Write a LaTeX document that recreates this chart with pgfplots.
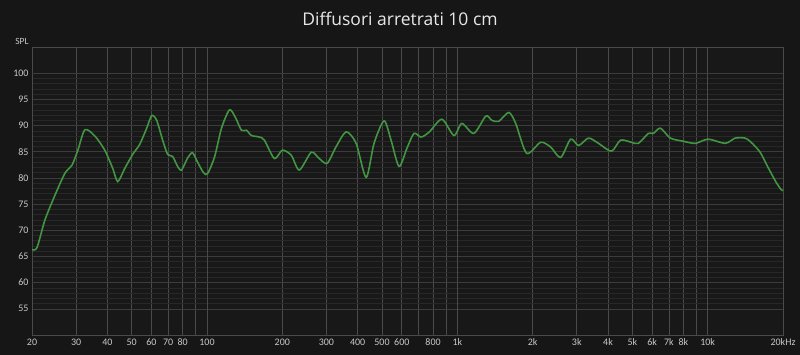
\documentclass[border=0pt]{standalone}
\usepackage{fontspec}
\setmainfont{Open Sans}
\newfontfamily\tickfont{Carlito}
\usepackage{pgfplots}
\pgfplotsset{compat=1.18}
\definecolor{bg}{HTML}{161616}
\definecolor{plotbg}{HTML}{181818}
\definecolor{curve}{RGB}{66,150,66}
\definecolor{lbl}{HTML}{C8C8C8}
\definecolor{titlec}{HTML}{E8E8E8}
\definecolor{gmaj}{HTML}{9A9A9A}
\definecolor{gmid}{HTML}{4A4A4A}
\definecolor{gten}{HTML}{6E6E6E}
\definecolor{gfive}{HTML}{3C3C3C}
\definecolor{gmin}{HTML}{282828}
\begin{document}
\begin{tikzpicture}
\fill[bg] (0,0) rectangle (800pt,355pt);
\path[use as bounding box] (0,0) rectangle (800pt,355pt);
\node[text=titlec, font=\fontsize{17.5}{20}\selectfont] at (400pt,336pt) {Diffusori arretrati 10 cm};
\node[text=lbl, font=\tickfont\fontsize{9.5}{11}\selectfont] at (22pt,314pt) {SPL};
\begin{axis}[
  at={(32pt,20pt)}, anchor=south west,
  scale only axis, width=751pt, height=288pt,
  xmode=log, xmin=20, xmax=20000, ymin=50, ymax=105,
  axis background/.style={fill=plotbg},
  axis line style={draw=gmid},
  major tick length=0pt, minor tick length=0pt,
  xtick={20,30,40,50,60,70,80,100,200,300,400,500,600,800,1000,2000,3000,4000,5000,6000,7000,8000,10000,20000},
  xticklabels={20,30,40,50,60,70,80,100,200,300,400,500,600,800,1k,2k,3k,4k,5k,6k,7k,8k,10k,20kHz},
  minor xtick={90,700,900,9000},
  ytick={55,60,...,100},
  minor y tick num=4,
  grid=both,
  major x grid style={gmid, line width=0.6pt},
  minor x grid style={gmid, line width=0.6pt},
  major y grid style={gfive, line width=0.6pt},
  minor y grid style={gmin, line width=0.5pt},
  extra x ticks={100,1000,10000},
  extra x tick labels={},
  extra x tick style={grid=major, major grid style={gmaj, line width=0.8pt}},
  extra y ticks={60,70,80,90,100},
  extra y tick labels={},
  extra y tick style={grid=major, major grid style={gten, line width=0.7pt}},
  /pgf/number format/assume math mode=true,
  xticklabel style={text=lbl, font=\tickfont\fontsize{10}{12}\selectfont},
  yticklabel style={text=lbl, font=\tickfont\fontsize{10}{12}\selectfont},
  clip=true,
]
\addplot[curve, line width=1.6pt, smooth, tension=0.45] coordinates {
(20,66.3) (20.94,66.7) (22.54,72) (24.70,76.7) (27.08,80.9) (28.87,82.4) (30.5,85.3) (32.54,89.2) (35.65,88) (39.06,85.3) (42.03,81.8) (44.01,79.3) (46.93,81.8) (50.5,84.5) (53.86,86.4) (57.43,89.5) (60.14,91.9) (62.96,91) (66.52,87.2) (69.63,84.5) (72.9,84.1) (76.33,82.2) (79.17,81.5) (83.65,83.8) (87.57,84.8) (91.7,83) (96.88,81) (100.5,80.8) (107.2,84) (114.3,89.5) (123,93) (130,91.5) (137.3,89.1) (143.8,89.1) (150.5,88.1) (162,87.8) (169.6,87.2) (185.9,83.7) (200,85.3) (217.3,84.3) (233.8,81.5) (261,84.9) (280.8,83.7) (302.2,82.8) (328.3,86) (359.8,88.8) (394.3,86.6) (432.3,80.1) (464.9,86.6) (509.7,90.9) (543.6,87.2) (585,82.2) (629.6,85.7) (671.3,88.5) (716,87.8) (770.4,88.7) (867.9,91.2) (969,88.1) (1042.6,90.4) (1164,88.5) (1300,91.8) (1373,91) (1464,90.8) (1605,92.5) (1711,90.4) (1892,84.7) (2152,86.8) (2359,85.9) (2586,83.9) (2835,87.4) (3051,86.2) (3344,87.6) (3665,86.6) (4128,85.1) (4483,87.2) (4959,86.8) (5289,86.6) (5798,88.5) (6071,88.5) (6473,89.5) (7096,87.6) (7995,87) (8926,86.6) (10056,87.4) (11752,86.6) (12882,87.6) (14120,87.6) (14918,86.8) (16205,84.9) (17429,82) (18753,79.2) (19632,77.8) (20000,77.6)
};
\end{axis}
\end{tikzpicture}
\end{document}
